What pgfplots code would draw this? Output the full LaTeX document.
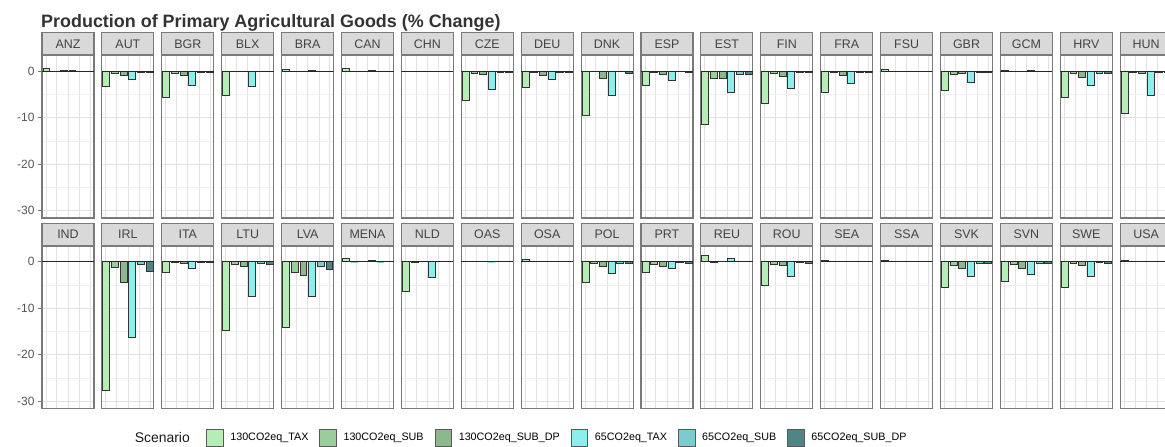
\documentclass[border=0pt]{standalone}
\usepackage{fontspec}
\setmainfont{Liberation Sans}
\usepackage{pgfplots}
\pgfplotsset{compat=1.18}
\definecolor{cA}{HTML}{B4EEB4}
\definecolor{cB}{HTML}{9BCD9B}
\definecolor{cC}{HTML}{8DB88D}
\definecolor{cD}{HTML}{8DEEEE}
\definecolor{cE}{HTML}{79CDCD}
\definecolor{cF}{HTML}{4F8585}
\definecolor{bordercol}{HTML}{7A7A7A}
\definecolor{stripfill}{HTML}{D9D9D9}
\definecolor{gridmaj}{HTML}{E2E2E2}
\definecolor{gridmin}{HTML}{EFEFEF}
\definecolor{ticktext}{HTML}{555555}
\definecolor{striptext}{HTML}{444444}

\pgfplotsset{
  panelextra/.style={},
  panel/.style={
    scale only axis, width=52bp, height=162.5bp, anchor=south west,
    xmin=0.5, xmax=6.5, ymin=-31.6, ymax=3.4,
    xtick={0.95,2.2,3.5,4.8,6.05}, xticklabels={}, xmajorgrids,
    ytick={-30,-20,-10,0}, minor ytick={-25,-15,-5}, ymajorgrids, yminorgrids,
    major grid style={gridmaj, line width=0.7bp},
    minor grid style={gridmin, line width=0.5bp},
    axis line style={bordercol, line width=1.1bp},
    x tick style={draw=none},
    minor tick length=0pt,
    ytick pos=left, tick align=outside,
    every axis title/.style={at={(0.5,1)}, anchor=south, fill=stripfill, draw=bordercol,
      line width=1.1bp, minimum width=52bp, minimum height=22bp, inner sep=0pt,
      text=striptext, font=\fontsize{12.5}{15}\selectfont},
    panelextra,
  },
  bar/.style={ybar, bar shift=0pt, bar width=0.8, draw=black!80, line width=0.6bp},
}

\newcommand\panel[9]{%
  \begin{axis}[panel, at={(#1bp,#2bp)}, title={#3}]
    \addplot[bar, fill=cA] coordinates {(1,#4)};
    \addplot[bar, fill=cB] coordinates {(2,#5)};
    \addplot[bar, fill=cC] coordinates {(3,#6)};
    \addplot[bar, fill=cD] coordinates {(4,#7)};
    \addplot[bar, fill=cE] coordinates {(5,#8)};
    \addplot[bar, fill=cF] coordinates {(6,#9)};
    \addplot[black!85, line width=0.8bp] coordinates {(0.5,0) (6.5,0)};
  \end{axis}}

\begin{document}
\begin{tikzpicture}
\useasboundingbox (0bp,0bp) rectangle (1165bp,447bp);

\node[anchor=base west, inner sep=0pt, font=\bfseries\fontsize{18}{21}\selectfont, text=black!80]
  at (41bp,419.5bp) {Production of Primary Agricultural Goods (\% Change)};

% ---------- top row ----------
\pgfplotsset{panelextra/.style={yticklabels={-30,-20,-10,0},
  y tick label style={font=\fontsize{12}{14}\selectfont, text=ticktext},
  major tick length=4bp, y tick style={bordercol, line width=0.9bp}}}
\panel{42}{229}{ANZ}{0.6}{0.05}{0.2}{0.3}{0.1}{0.05}
\pgfplotsset{panelextra/.style={yticklabels={}, major tick length=0pt, y tick style={draw=none}}}
\panel{101.9}{229}{AUT}{-3.3}{-0.4}{-0.9}{-1.7}{-0.2}{-0.3}
\panel{161.8}{229}{BGR}{-5.5}{-0.5}{-0.9}{-3.1}{-0.3}{-0.3}
\panel{221.7}{229}{BLX}{-5.1}{0}{0.1}{-3.3}{0}{0}
\panel{281.6}{229}{BRA}{0.5}{0.05}{0.1}{0.3}{0.05}{0}
\panel{341.5}{229}{CAN}{0.6}{0.05}{0.1}{0.3}{0.05}{0}
\panel{401.4}{229}{CHN}{0.05}{0.1}{0}{0.1}{0}{0}
\panel{461.3}{229}{CZE}{-6.3}{-0.5}{-0.6}{-3.8}{-0.3}{-0.3}
\panel{521.2}{229}{DEU}{-3.4}{-0.3}{-0.8}{-1.8}{-0.2}{-0.2}
\panel{581.1}{229}{DNK}{-9.5}{-0.1}{-1.6}{-5.1}{-0.1}{-0.5}
\panel{641.0}{229}{ESP}{-3.1}{-0.2}{-0.6}{-1.9}{0}{-0.3}
\panel{700.9}{229}{EST}{-11.4}{-1.6}{-1.6}{-4.6}{-0.6}{-0.6}
\panel{760.8}{229}{FIN}{-6.8}{-0.4}{-1.1}{-3.7}{-0.2}{-0.3}
\panel{820.7}{229}{FRA}{-4.5}{-0.3}{-0.9}{-2.6}{-0.2}{-0.3}
\panel{880.6}{229}{FSU}{0.4}{0}{0}{0.1}{0}{0}
\panel{940.5}{229}{GBR}{-4.1}{-0.7}{-0.4}{-2.4}{-0.2}{-0.2}
\panel{1000.4}{229}{GCM}{0.3}{0.1}{0}{0.2}{0}{-0.1}
\panel{1060.3}{229}{HRV}{-5.7}{-0.5}{-1.2}{-3.1}{-0.5}{-0.4}
\panel{1120.2}{229}{HUN}{-9.0}{-0.3}{-0.5}{-5.2}{-0.2}{-0.3}

% ---------- bottom row ----------
\pgfplotsset{panelextra/.style={yticklabels={-30,-20,-10,0},
  y tick label style={font=\fontsize{12}{14}\selectfont, text=ticktext},
  major tick length=4bp, y tick style={bordercol, line width=0.9bp}}}
\panel{42}{38.5}{IND}{0}{0}{0}{0}{0}{0}
\pgfplotsset{panelextra/.style={yticklabels={}, major tick length=0pt, y tick style={draw=none}}}
\panel{101.9}{38.5}{IRL}{-27.7}{-1.2}{-4.5}{-16.3}{-0.6}{-2.0}
\panel{161.8}{38.5}{ITA}{-2.2}{-0.2}{-0.3}{-1.4}{-0.2}{-0.2}
\panel{221.7}{38.5}{LTU}{-14.8}{-0.6}{-1.0}{-7.5}{-0.3}{-0.5}
\panel{281.6}{38.5}{LVA}{-14.2}{-2.2}{-3.0}{-7.5}{-0.9}{-1.7}
\panel{341.5}{38.5}{MENA}{0.7}{0.05}{0.1}{0.3}{0.05}{0}
\panel{401.4}{38.5}{NLD}{-6.3}{-0.1}{0}{-3.4}{0}{0}
\panel{461.3}{38.5}{OAS}{0.1}{0}{0}{0.05}{0}{0}
\panel{521.2}{38.5}{OSA}{0.5}{0}{0.1}{0.1}{0.1}{0}
\panel{581.1}{38.5}{POL}{-4.4}{-0.4}{-0.9}{-2.4}{-0.3}{-0.3}
\panel{641.0}{38.5}{PRT}{-2.2}{-0.6}{-0.9}{-1.5}{-0.2}{-0.3}
\panel{700.9}{38.5}{REU}{1.4}{-0.1}{0}{0.7}{0}{0}
\panel{760.8}{38.5}{ROU}{-5.0}{-0.5}{-0.7}{-3.1}{-0.2}{-0.3}
\panel{820.7}{38.5}{SEA}{0.3}{0}{0}{0.1}{0}{0}
\panel{880.6}{38.5}{SSA}{0.3}{0}{0}{0.1}{0}{0}
\panel{940.5}{38.5}{SVK}{-5.6}{-0.7}{-1.4}{-3.2}{-0.4}{-0.4}
\panel{1000.4}{38.5}{SVN}{-4.3}{-0.6}{-1.4}{-2.6}{-0.3}{-0.4}
\panel{1060.3}{38.5}{SWE}{-5.6}{-0.3}{-0.8}{-3.1}{-0.2}{-0.3}
\panel{1120.2}{38.5}{USA}{0.3}{0}{0}{0.1}{0}{0}

% ---------- legend ----------
\node[anchor=base east, inner sep=0pt, font=\fontsize{14}{16}\selectfont, text=black!90] at (190bp,4.8bp) {Scenario};
\begin{axis}[hide axis, scale only axis, width=1bp, height=1bp, at={(206.5bp,9.5bp)}, anchor=center,
  xmin=0, xmax=1, ymin=0, ymax=1,
  legend columns=6,
  legend style={at={(0,0.5)}, anchor=west, draw=none, fill=none, inner sep=0pt,
    font=\fontsize{10.8}{12}\selectfont,
    /tikz/every odd column/.append style={column sep=5bp},
    /tikz/every even column/.append style={column sep=9bp}},
  legend image code/.code={\draw[#1] (0bp,-8.3bp) rectangle (16.5bp,8.3bp);}]
  \addlegendimage{fill=cA, draw=black!65, line width=0.6bp}
  \addlegendentry{130CO2eq\_TAX}
  \addlegendimage{fill=cB, draw=black!65, line width=0.6bp}
  \addlegendentry{130CO2eq\_SUB}
  \addlegendimage{fill=cC, draw=black!65, line width=0.6bp}
  \addlegendentry{130CO2eq\_SUB\_DP}
  \addlegendimage{fill=cD, draw=black!65, line width=0.6bp}
  \addlegendentry{65CO2eq\_TAX}
  \addlegendimage{fill=cE, draw=black!65, line width=0.6bp}
  \addlegendentry{65CO2eq\_SUB}
  \addlegendimage{fill=cF, draw=black!65, line width=0.6bp}
  \addlegendentry{65CO2eq\_SUB\_DP}
\end{axis}
\end{tikzpicture}
\end{document}
